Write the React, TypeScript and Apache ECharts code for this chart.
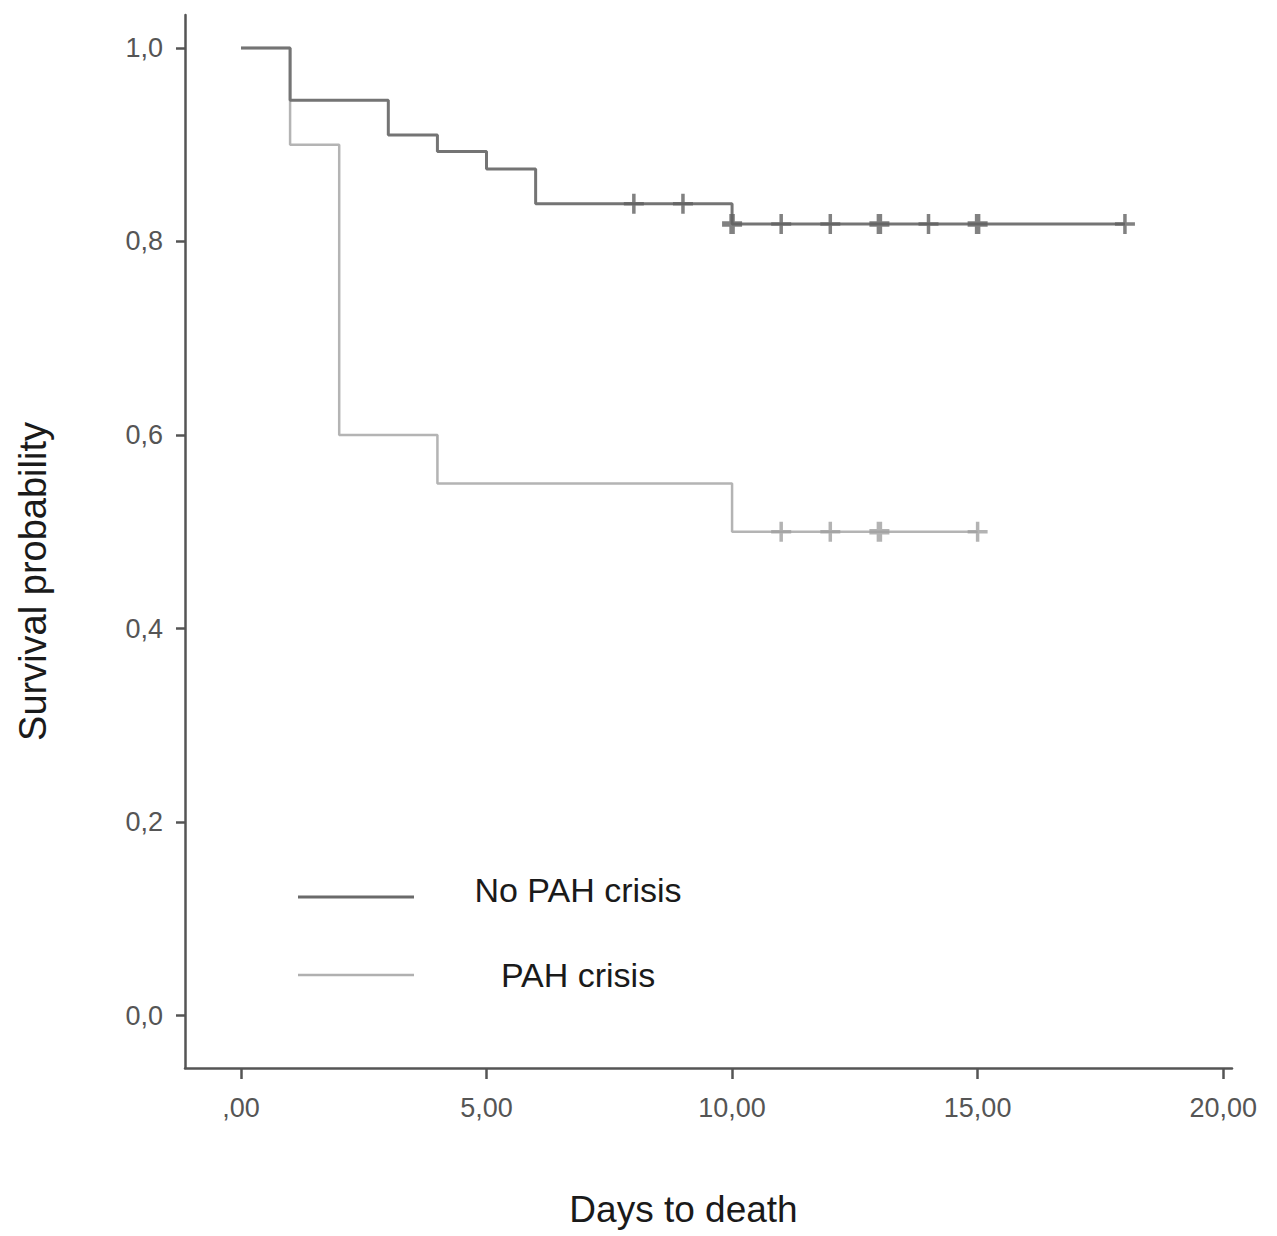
import React, { useEffect, useRef } from "react";
import * as echarts from "echarts";

// Kaplan-Meier step data
const noCrisisTimes = [0, 1, 3, 4, 5, 6, 10, 18];
const noCrisisSurv = [1.0, 0.946, 0.91, 0.893, 0.875, 0.839, 0.818, 0.818];
const crisisTimes = [0, 1, 2, 4, 10, 15];
const crisisSurv = [1.0, 0.9, 0.6, 0.55, 0.5, 0.5];

// censoring marks (time, count of overlapping censors)
const noCrisisCensorTimes = [8, 9, 10, 11, 12, 13, 14, 15, 18];
const noCrisisCensorCounts = [1, 1, 2, 1, 1, 2, 1, 2, 1];
const crisisCensorTimes = [11, 12, 13, 15];
const crisisCensorCounts = [1, 1, 2, 1];

const xTicks = [0, 5, 10, 15, 20];
const yTicks = [0, 0.2, 0.4, 0.6, 0.8, 1.0];

const seriesNames = ["No PAH crisis", "PAH crisis"];

const thinPlus = "path://M-1.4,-8H1.4V-1.4H8V1.4H1.4V8H-1.4V1.4H-8V-1.4H-1.4Z";
const boldPlus = "path://M-2.2,-8H2.2V-2.2H8V2.2H2.2V8H-2.2V2.2H-8V-2.2H-2.2Z";

function survAt(times: number[], surv: number[], t: number) {
  let s = surv[0];
  for (let i = 0; i < times.length; i++) if (times[i] <= t) s = surv[i];
  return s;
}

const FONT = "'Liberation Sans', Arial, sans-serif";

export default function App() {
  const ref = useRef<HTMLDivElement>(null);
  useEffect(() => {
    document.body.style.margin = "0";
    const chart = echarts.init(ref.current!, null, { renderer: "svg" });
    const lineData = (ts: number[], ss: number[]) => ts.map((t, i) => [t, ss[i]]);
    const censorData = (ct: number[], cc: number[], ts: number[], ss: number[]) =>
      ct.map((t, i) => ({
        value: [t, survAt(ts, ss, t)],
        symbol: cc[i] > 1 ? boldPlus : thinPlus,
      }));
    chart.setOption({
      animation: false,
      backgroundColor: "#ffffff",
      grid: { left: 185, right: 45, top: 15, bottom: 168 },
      xAxis: {
        type: "value",
        min: -1.14,
        max: 20.18,
        name: "Days to death",
        nameLocation: "middle",
        nameGap: 123,
        nameTextStyle: { fontFamily: FONT, fontSize: 37, color: "#1a1a1a", padding: [0, 50, 0, 0] },
        axisLine: { show: true, onZero: false, lineStyle: { color: "#555", width: 2.5 } },
        axisTick: { show: true, customValues: xTicks, length: 11, lineStyle: { color: "#555", width: 2.5 } },
        axisLabel: {
          customValues: xTicks,
          margin: 26,
          fontFamily: FONT,
          fontSize: 27,
          color: "#555",
          formatter: (v: number) => (v === 0 ? ",00" : v.toFixed(2).replace(".", ",")),
        },
        splitLine: { show: false },
      },
      yAxis: {
        type: "value",
        min: -0.054,
        max: 1.034,
        name: "Survival probability",
        nameLocation: "middle",
        nameGap: 133,
        nameTextStyle: { fontFamily: FONT, fontSize: 38, color: "#1a1a1a", padding: [0, 80, 0, 0] },
        axisLine: { show: true, onZero: false, lineStyle: { color: "#555", width: 2.5 } },
        axisTick: { show: true, customValues: yTicks, length: 9, lineStyle: { color: "#555", width: 2.5 } },
        axisLabel: {
          customValues: yTicks,
          margin: 22,
          fontFamily: FONT,
          fontSize: 27,
          color: "#555",
          formatter: (v: number) => v.toFixed(1).replace(".", ","),
        },
        splitLine: { show: false },
      },
      series: [
        {
          name: seriesNames[1],
          type: "line",
          step: "end",
          data: lineData(crisisTimes, crisisSurv),
          showSymbol: false,
          lineStyle: { color: "#b4b4b4", width: 2.5 },
          z: 2,
        },
        {
          name: seriesNames[1] + " censored",
          type: "scatter",
          data: censorData(crisisCensorTimes, crisisCensorCounts, crisisTimes, crisisSurv),
          symbolSize: 20,
          itemStyle: { color: "#a0a0a0" },
          z: 3,
        },
        {
          name: seriesNames[0],
          type: "line",
          step: "end",
          data: lineData(noCrisisTimes, noCrisisSurv),
          showSymbol: false,
          lineStyle: { color: "#747474", width: 3 },
          z: 4,
        },
        {
          name: seriesNames[0] + " censored",
          type: "scatter",
          data: censorData(noCrisisCensorTimes, noCrisisCensorCounts, noCrisisTimes, noCrisisSurv),
          symbolSize: 20,
          itemStyle: { color: "#616161" },
          z: 5,
        },
      ],
      graphic: [
        { type: "line", shape: { x1: 298, y1: 897, x2: 414, y2: 897 }, style: { stroke: "#6a6a6a", lineWidth: 3 } },
        { type: "line", shape: { x1: 298, y1: 975, x2: 414, y2: 975 }, style: { stroke: "#b0b0b0", lineWidth: 2.5 } },
        {
          type: "text",
          x: 578,
          y: 890,
          style: { text: seriesNames[0], fontFamily: FONT, fontSize: 34, fill: "#1a1a1a", align: "center", verticalAlign: "middle" },
        },
        {
          type: "text",
          x: 578,
          y: 975,
          style: { text: seriesNames[1], fontFamily: FONT, fontSize: 34, fill: "#1a1a1a", align: "center", verticalAlign: "middle" },
        },
      ],
    });
    return () => chart.dispose();
  }, []);
  return <div ref={ref} style={{ width: 1277, height: 1236 }} />;
}
